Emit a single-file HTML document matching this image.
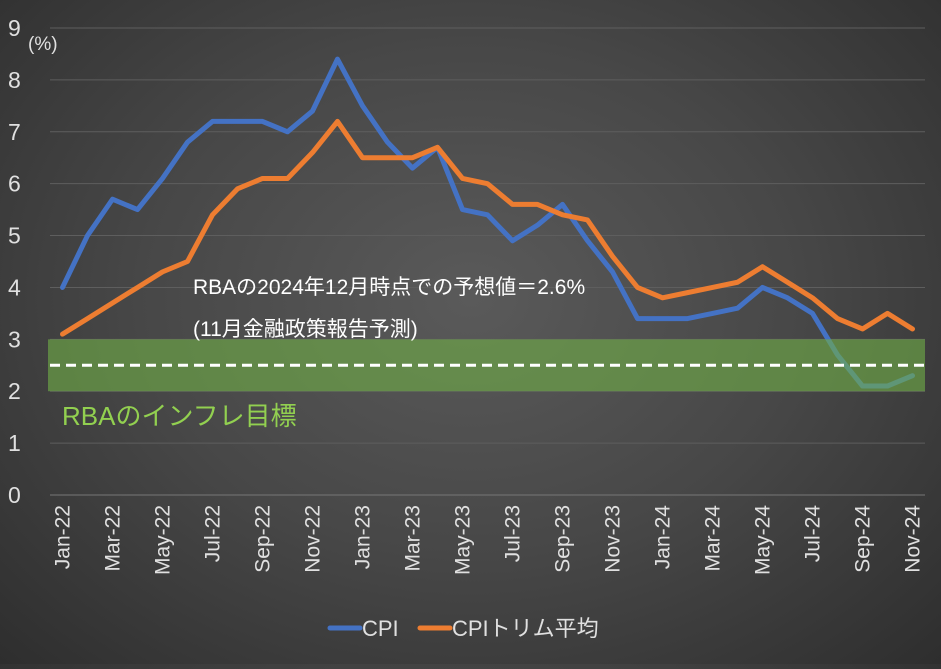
<!DOCTYPE html>
<html><head><meta charset="utf-8">
<style>
html,body{margin:0;padding:0;}
body{width:941px;height:664px;overflow:hidden;background:radial-gradient(ellipse at 50% 45%,#5a5a5a 0%,#474747 50%,#2e2e2e 100%);font-family:"Liberation Sans","Noto Sans CJK JP",sans-serif;}
svg text{font-family:"Liberation Sans","Noto Sans CJK JP",sans-serif;}
</style></head>
<body>
<svg id="chart" width="941" height="664" xmlns="http://www.w3.org/2000/svg"></svg>
<script>
const categories=["Jan-22","Feb-22","Mar-22","Apr-22","May-22","Jun-22","Jul-22","Aug-22","Sep-22","Oct-22","Nov-22","Dec-22","Jan-23","Feb-23","Mar-23","Apr-23","May-23","Jun-23","Jul-23","Aug-23","Sep-23","Oct-23","Nov-23","Dec-23","Jan-24","Feb-24","Mar-24","Apr-24","May-24","Jun-24","Jul-24","Aug-24","Sep-24","Oct-24","Nov-24"];
const cpi=[4.0,5.0,5.7,5.5,6.1,6.8,7.2,7.2,7.2,7.0,7.4,8.4,7.5,6.8,6.3,6.7,5.5,5.4,4.9,5.2,5.6,4.9,4.3,3.4,3.4,3.4,3.5,3.6,4.0,3.8,3.5,2.7,2.1,2.1,2.3];
const trimmed=[3.1,3.4,3.7,4.0,4.3,4.5,5.4,5.9,6.1,6.1,6.6,7.2,6.5,6.5,6.5,6.7,6.1,6.0,5.6,5.6,5.4,5.3,4.6,4.0,3.8,3.9,4.0,4.1,4.4,4.1,3.8,3.4,3.2,3.5,3.2];
const yTicks=[0,1,2,3,4,5,6,7,8,9];
const targetBand=[2,3];
const forecast=2.5;
const NS="http://www.w3.org/2000/svg";
const svg=document.getElementById('chart');
const x0=50,x1=925,yBase=495,yTop=28;
const yS=v=>yBase-(v/9)*(yBase-yTop);
const step=(x1-x0)/categories.length;
const xS=i=>x0+step*(i+0.5);
function mk(tag,attrs){const e=document.createElementNS(NS,tag);for(const k in attrs)e.setAttribute(k,attrs[k]);svg.appendChild(e);return e;}
yTicks.forEach(t=>{
  const g=mk('line',{x1:x0,x2:x1,y1:yS(t),y2:yS(t),stroke:t===0?'#777':'#5e5e5e','stroke-width':1});
  
  
  const l=mk('text',{x:8,y:yS(t)+8,fill:'#e0e0e0','font-size':23});
  l.textContent=t;
  
  
});
const unit=mk('text',{x:28,y:50,fill:'#e0e0e0','font-size':19});unit.textContent='(%)';


categories.forEach((c,i)=>{
  if(i%2!==0)return;
  const t=mk('text',{x:0,y:0,fill:'#e0e0e0','font-size':21,'text-anchor':'end',transform:`translate(${xS(i)+7},505) rotate(-90)`});
  t.textContent=c;
  
  
});
function line(data,color,name){
  const p=mk('polyline',{points:data.map((v,i)=>xS(i)+','+yS(v)).join(' '),fill:'none',stroke:color,'stroke-width':5,'stroke-linejoin':'round','stroke-linecap':'round'});
  
  
}
line(cpi,'#4472c4','cpi-line');
line(trimmed,'#ed7d31','trimmed-mean-line');
const band=mk('rect',{x:x0-2,y:yS(targetBand[1]),width:x1-x0+2,height:yS(targetBand[0])-yS(targetBand[1]),fill:'#70ad47','fill-opacity':0.62});


const dl=mk('line',{x1:x0,x2:x1,y1:yS(forecast),y2:yS(forecast),stroke:'#fff','stroke-width':3,'stroke-dasharray':'10,6'});


const bl=mk('text',{x:62,y:425,fill:'#92d050','font-size':26});bl.textContent='RBAのインフレ目標';


const a1=mk('text',{x:193,y:294,fill:'#fff','font-size':21});a1.textContent='RBAの2024年12月時点での予想値＝2.6%';


const a2=mk('text',{x:193,y:336,fill:'#fff','font-size':21});a2.textContent='(11月金融政策報告予測)';


[[330,'#4472c4','CPI'],[420,'#ed7d31','CPIトリム平均']].forEach(([lx,c,txt],k)=>{
  const s=mk('line',{x1:lx,x2:lx+30,y1:628,y2:628,stroke:c,'stroke-width':5,'stroke-linecap':'round'});
  
  
  const t=mk('text',{x:lx+32,y:636,fill:'#e0e0e0','font-size':22});t.textContent=txt;
  
  
});
</script>
</body></html>
